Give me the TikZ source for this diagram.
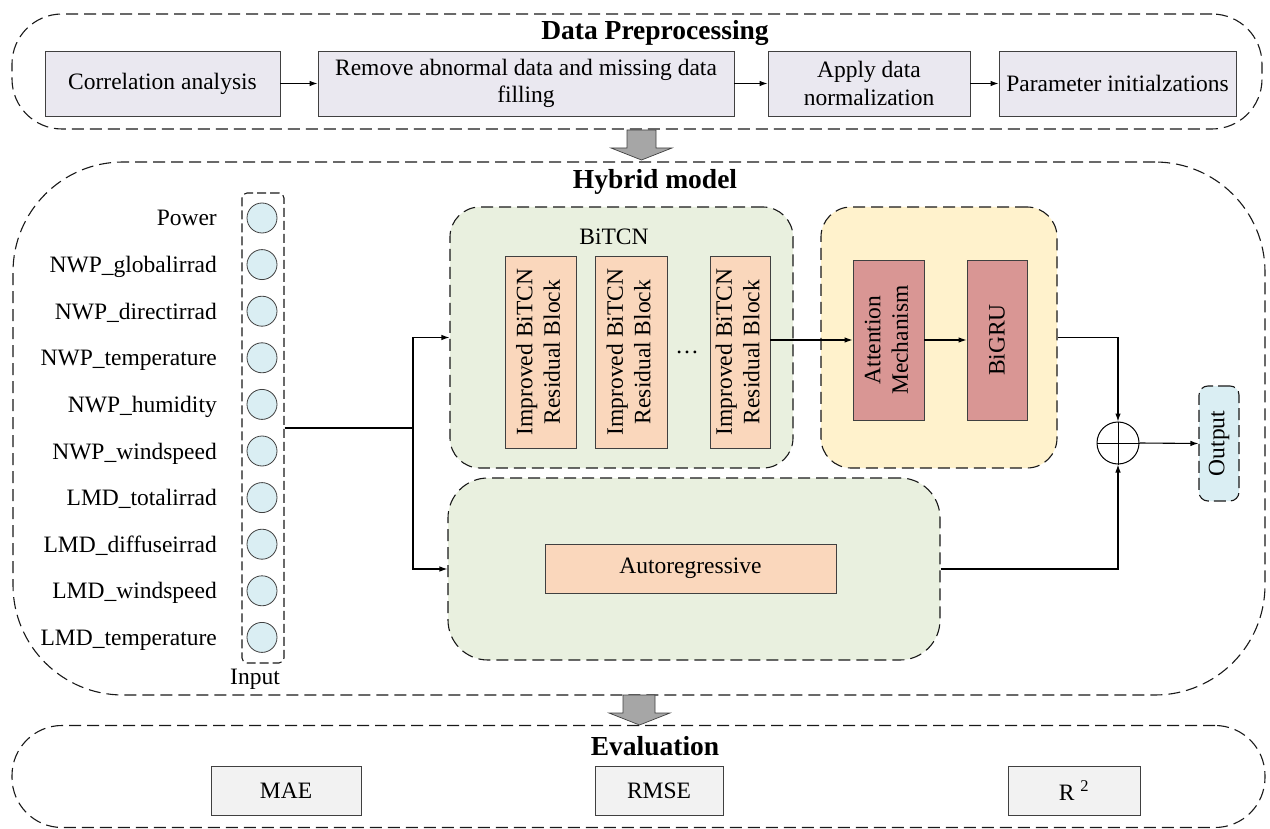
\documentclass[tikz,border=0pt]{standalone}
\usepackage{fontspec}
\setmainfont{Liberation Serif}
\usetikzlibrary{arrows.meta}

\definecolor{prepfill}{RGB}{234,232,240}
\definecolor{evalfill}{RGB}{242,242,242}
\definecolor{greenbg}{RGB}{233,240,223}
\definecolor{yellowbg}{RGB}{255,242,204}
\definecolor{peach}{RGB}{250,215,188}
\definecolor{rose}{RGB}{217,150,148}
\definecolor{lightblue}{RGB}{218,238,243}
\definecolor{arrowgray}{RGB}{166,166,166}
\definecolor{edge}{RGB}{64,64,64}

% vertical (bottom-to-top) multi-line label
\newcommand\vlines[1]{\rotatebox{90}{\begin{tabular}{@{}c@{}}#1\end{tabular}}}

\begin{document}
\begin{tikzpicture}[x=1pt,y=-1pt,
  font=\fontsize{23.5}{27.5}\selectfont,
  grp/.style={draw=black!90, line width=1.1pt, dash pattern=on 12pt off 6pt, inner sep=0pt},
  stage/.style={draw=edge, line width=0.8pt, fill=prepfill, align=center, inner sep=0pt},
  evalbox/.style={stage, fill=evalfill},
  block/.style={draw=edge, line width=0.8pt, fill=peach, inner sep=0pt},
  redblock/.style={block, fill=rose},
  feat/.style={circle, draw=edge, line width=0.8pt, fill=lightblue, minimum size=30pt, inner sep=0pt},
  flow/.style={line width=1.1pt, -{Latex[length=8pt,width=5.5pt]}},
  link/.style={line width=1.1pt},
  title/.style={font=\fontsize{27.5}{31}\selectfont\bfseries},
  fat/.style={draw=edge, line width=0.7pt, fill=arrowgray}]

\useasboundingbox (0,0) rectangle (1270,829);

% ---------------- group frames ----------------
\node[grp, rounded corners=50pt, minimum width=1250pt, minimum height=115pt] (prep) at (637,71.5) {};
\node[grp, rounded corners=110pt, minimum width=1252pt, minimum height=533pt] (hybrid) at (639,428.5) {};
\node[grp, rounded corners=50pt, minimum width=1253pt, minimum height=102pt] (evalgrp) at (638.5,776.5) {};

% ---------------- data preprocessing ----------------
\node[title] (preptitle) at (655,33) {Data Preprocessing};
\node[stage, minimum width=235pt, minimum height=65pt] (s1) at (162.5,83.5) {Correlation analysis};
\node[stage, minimum width=416pt, minimum height=65pt] (s2) at (526,83.5) {Remove abnormal data and missing data\\filling};
\node[stage, minimum width=202pt, minimum height=65pt] (s3) at (869,83.5) {Apply data\\normalization};
\node[stage, minimum width=237pt, minimum height=65pt] (s4) at (1117.5,83.5) {Parameter initialzations};
\draw[flow] (s1.east) -- (s2.west);
\draw[flow] (s2.east) -- (s3.west);
\draw[flow] (s3.east) -- (s4.west);

% block arrow between stages
\draw[fat] (627,130) -- (656,130) -- (656,148) -- (672,148) -- (641.5,160) -- (611,148) -- (627,148) -- cycle;

% ---------------- hybrid model ----------------
\node[title] (hybtitle) at (655,182) {Hybrid model};

% input features
\node[grp, dash pattern=on 9pt off 4pt, rounded corners=5pt, minimum width=42pt, minimum height=470pt] (input) at (263,428) {};
\foreach \t [count=\i] in {Power, NWP\_globalirrad, NWP\_directirrad, NWP\_temperature, NWP\_humidity,
    NWP\_windspeed, LMD\_totalirrad, LMD\_diffuseirrad, LMD\_windspeed, LMD\_temperature}{
  \node[feat] (f\i) at (262,{218+46.6*(\i-1)}) {};
  \node[anchor=base east, inner sep=0pt] (l\i) at (217,{226+46.6*(\i-1)}) {\t};
}
\node[anchor=base, inner sep=0pt] (inlbl) at (255,684) {Input};

% BiTCN branch
\node[grp, fill=greenbg, rounded corners=30pt, minimum width=343pt, minimum height=261pt] (bitcn) at (621.5,337.5) {};
\node (bitcnlbl) at (614,237) {BiTCN};
\node[block, minimum width=71pt, minimum height=192pt] (r1) at (540.5,352) {\vlines{Improved BiTCN\\Residual Block}};
\node[block, minimum width=72pt, minimum height=192pt] (r2) at (631,352) {\vlines{Improved BiTCN\\Residual Block}};
\node (dots) at (687,352) {\dots};
\node[block, minimum width=60pt, minimum height=192pt] (r3) at (740,352) {\vlines{Improved BiTCN\\Residual Block}};

% attention + BiGRU
\node[grp, fill=yellowbg, rounded corners=30pt, minimum width=236pt, minimum height=261pt] (attgrp) at (939,337.5) {};
\node[redblock, minimum width=71pt, minimum height=160pt] (att) at (888.5,340) {\vlines{Attention\\Mechanism}};
\node[redblock, minimum width=60pt, minimum height=160pt] (bigru) at (997,340) {\rotatebox{90}{BiGRU}};

% autoregressive branch
\node[grp, fill=greenbg, rounded corners=40pt, minimum width=492pt, minimum height=182pt] (argrp) at (694,569) {};
\node[block, minimum width=291pt, minimum height=49pt] (ar) at (690.5,568.5) {Autoregressive};

% fusion and output
\node[circle, draw=black, line width=1pt, minimum size=42pt, inner sep=0pt] (sum) at (1118,443) {};
\draw[line width=0.7pt] (sum.north) -- (sum.south) (sum.west) -- (sum.east);
\node[grp, fill=lightblue, dash pattern=on 12pt off 5pt, rounded corners=9pt, minimum width=40pt, minimum height=115pt] (out) at (1219,443.5) {\rotatebox{90}{Output}};

% connectors
\coordinate (split) at (413,428);
\draw[link] (input.east) -- (split);
\draw[flow] (split) |- (bitcn.west);
\draw[flow] (split) |- (argrp.west);
\draw[flow] (r3.east |- att.west) -- (att.west);
\draw[flow] (att.east) -- (bigru.west);
\draw[flow] (attgrp.east) -| (sum.north);
\draw[flow] (argrp.east) -| (sum.south);
\draw[flow] (sum.east) -- (out.west);

% block arrow between stages
\draw[fat] (623,695) -- (655,695) -- (655,713) -- (670,713) -- (639.5,725) -- (609,713) -- (623,713) -- cycle;

% ---------------- evaluation ----------------
\node[title] (evaltitle) at (655,746) {Evaluation};
\node[evalbox, minimum width=150pt, minimum height=49pt] (mae) at (286,790.5) {MAE};
\node[evalbox, minimum width=128pt, minimum height=49pt] (rmse) at (659,790.5) {RMSE};
\node[evalbox, minimum width=132pt, minimum height=49pt] (r2) at (1074,790.5) {R~\textsuperscript{2}};

\end{tikzpicture}
\end{document}
